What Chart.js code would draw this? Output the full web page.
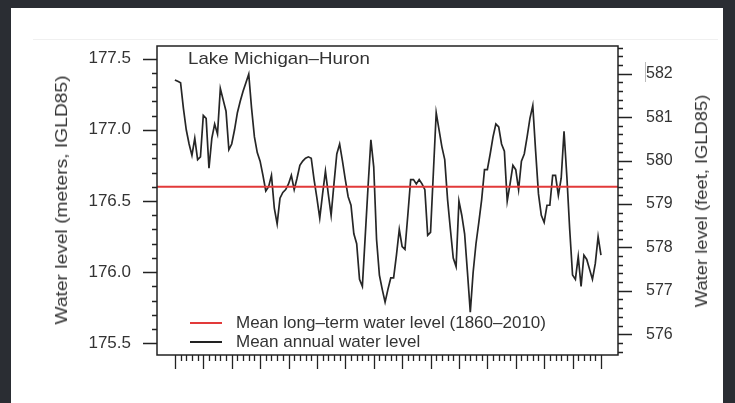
<!DOCTYPE html>
<html><head><meta charset="utf-8">
<script src="https://cdn.jsdelivr.net/npm/chart.js@4"></script>
<style>
html,body{margin:0;padding:0;width:735px;height:403px;overflow:hidden;background:#2a2d33;font-family:"Liberation Sans",Arial,sans-serif;}
#panel{position:absolute;left:11px;top:8px;width:712px;height:400px;background:#fff;}
#hline{position:absolute;left:33px;top:39px;width:685px;height:1px;background:#f0f0f0;}
canvas{position:absolute;left:0;top:0;}
.t{position:absolute;color:#333;white-space:nowrap;}
.lg{position:absolute;height:2px;}
</style></head>
<body>
<div id="panel"></div>
<div id="hline"></div>
<canvas id="c" width="735" height="403"></canvas>
<div class="t" style="left:188px;top:49px;font-size:17px;transform-origin:0 50%;transform:scaleX(1.1);">Lake Michigan–Huron</div>
<div class="t" style="font-size:17px;left:62px;top:200px;transform:translate(-50%,-50%) rotate(-90deg) scaleX(1.13);">Water level (meters, IGLD85)</div>
<div class="t" style="font-size:17px;left:702px;top:201px;transform:translate(-50%,-50%) rotate(-90deg) scaleX(1.08);">Water level (feet, IGLD85)</div>
<div class="lg" style="left:190px;top:322px;width:32px;background:#e23a3a;"></div>
<div class="t" style="left:236px;top:313px;font-size:17px;">Mean long–term water level (1860–2010)</div>
<div class="lg" style="left:190px;top:341px;width:32px;background:#222;"></div>
<div class="t" style="left:236px;top:332px;font-size:17px;">Mean annual water level</div>
<div style="position:absolute;left:645px;top:62px;width:1px;height:20px;background:#bbb;"></div>
<script>
const years = [];
for (let y = 1860; y <= 2010; y++) years.push(y);
const annualLevel = [
177.35,177.34,177.33,177.15,177.00,176.90,176.82,176.94,176.79,176.81,
177.10,177.08,176.73,176.94,177.04,176.97,177.29,177.21,177.13,176.86,
176.90,177.00,177.12,177.20,177.27,177.33,177.39,177.15,176.95,176.84,
176.78,176.68,176.57,176.60,176.68,176.45,176.34,176.52,176.56,176.58,
176.62,176.68,176.58,176.66,176.75,176.78,176.80,176.81,176.80,176.65,
176.52,176.38,176.55,176.71,176.55,176.40,176.62,176.83,176.90,176.78,
176.65,176.53,176.47,176.27,176.20,175.95,175.90,176.25,176.60,176.93,
176.74,176.23,175.98,175.88,175.79,175.88,175.96,175.96,176.12,176.30,
176.18,176.16,176.40,176.65,176.65,176.62,176.65,176.62,176.58,176.26,
176.28,176.70,177.12,177.00,176.88,176.79,176.51,176.30,176.10,176.04,
176.50,176.40,176.27,176.00,175.72,176.00,176.20,176.35,176.51,176.72,
176.72,176.83,176.95,177.04,177.02,176.90,176.85,176.50,176.62,176.75,
176.72,176.58,176.78,176.83,176.95,177.08,177.17,176.85,176.55,176.40,
176.35,176.47,176.47,176.68,176.68,176.54,176.66,176.99,176.67,176.30,
175.98,175.95,176.11,175.90,176.12,176.09,176.02,175.95,176.06,176.25,
176.12];
const meanLevel = 176.6;
const meterTicks = [175.5, 176.0, 176.5, 177.0, 177.5];
const feetTicks = [576, 577, 578, 579, 580, 581, 582];
const xMin = 1853.7, xMax = 2016;
const yMin = 175.419, yMax = 177.588;
const FT = 0.3048;

const annualPts = years.map((y,i)=>({x:y, y:annualLevel[i]}));
const meanPts = [{x:xMin,y:meanLevel},{x:xMax,y:meanLevel}];

const boxPlugin = {
  id:'box',
  afterDatasetsDraw(chart){
    const ctx = chart.ctx, a = chart.chartArea;
    const sx = chart.scales.x, sy = chart.scales.y, sf = chart.scales.yft;
    ctx.save();
    ctx.strokeStyle = '#222';
    ctx.lineWidth = 1.5;
    ctx.strokeRect(a.left, a.top, a.right-a.left, a.bottom-a.top);
    ctx.lineWidth = 1.3;
    ctx.beginPath();
    for (let yr = 1860; yr <= 2010; yr += 2) {
      const px = Math.round(sx.getPixelForValue(yr)) + 0.5;
      const len = (yr % 10 === 0) ? 14 : 6;
      ctx.moveTo(px, a.bottom); ctx.lineTo(px, a.bottom + len);
    }
    for (let k = 0; ; k++) {
      const v = 175.5 + k*0.1;
      if (v > yMax) break;
      const py = Math.round(sy.getPixelForValue(v)) + 0.5;
      const major = meterTicks.some(t=>Math.abs(t-v)<1e-6);
      ctx.moveTo(a.left, py); ctx.lineTo(a.left - (major?14:5), py);
    }
    for (let k = 0; ; k++) {
      const v = 575.6 + k*0.2;
      if (v > yMax/FT) break;
      const py = Math.round(sf.getPixelForValue(v)) + 0.5;
      const major = feetTicks.some(t=>Math.abs(t-v)<1e-6);
      ctx.moveTo(a.right, py); ctx.lineTo(a.right + (major?14:5), py);
    }
    ctx.stroke();
    ctx.restore();
  }
};

new Chart(document.getElementById('c'), {
  type:'line',
  data:{datasets:[
    {label:'Mean long-term water level (1860–2010)', data:meanPts, borderColor:'#e23a3a', borderWidth:2, pointRadius:0, tension:0, yAxisID:'y'},
    {label:'Mean annual water level', data:annualPts, borderColor:'#262626', borderWidth:1.7, pointRadius:0, tension:0, yAxisID:'y'}
  ]},
  options:{
    responsive:false, animation:false,
    layout:{padding:{top:46,left:0,right:0,bottom:0}},
    plugins:{legend:{display:false}, tooltip:{enabled:false}},
    scales:{
      x:{type:'linear', min:xMin, max:xMax, grid:{display:false, drawTicks:false}, border:{display:false},
         ticks:{display:false}, afterFit(s){s.height=48;}},
      y:{type:'linear', position:'left', min:yMin, max:yMax,
         grid:{display:false, drawTicks:false}, border:{display:false},
         afterBuildTicks(s){s.ticks = meterTicks.map(v=>({value:v}));},
         ticks:{padding:26, color:'#333', font:{family:'"Liberation Sans", Arial, sans-serif', size:17},
                callback:(v)=>Number(v).toFixed(1)},
         afterFit(s){s.width=157;}},
      yft:{type:'linear', position:'right', min:yMin/FT, max:yMax/FT,
         grid:{display:false, drawTicks:false}, border:{display:false},
         afterBuildTicks(s){s.ticks = feetTicks.map(v=>({value:v}));},
         ticks:{padding:28, color:'#333', font:{family:'"Liberation Sans", Arial, sans-serif', size:16},
                callback:(v)=>String(v)},
         afterFit(s){s.width=117;}}
    }
  },
  plugins:[boxPlugin]
});
</script>
</body></html>
